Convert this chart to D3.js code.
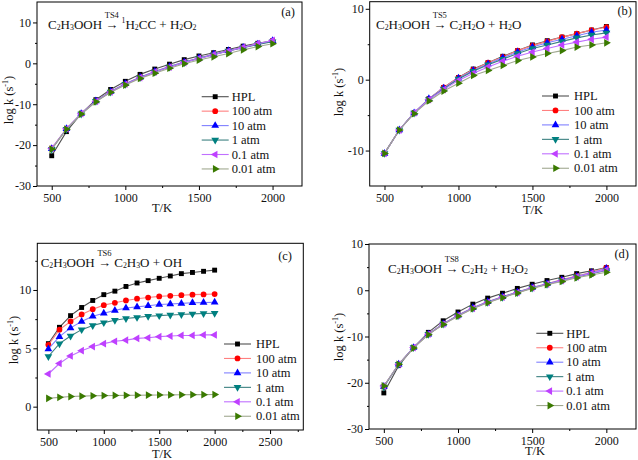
<!DOCTYPE html>
<html><head><meta charset="utf-8">
<script src="https://cdn.jsdelivr.net/npm/d3@7"></script>
<style>
body{margin:0;background:#fff;}
svg{display:block;}
svg text{font-family:"Liberation Serif","Times New Roman",serif !important;}
</style></head>
<body><svg id="c" width="638" height="460"></svg>
<script>
// ---------- data ----------
const temps = [500,600,700,800,900,1000,1100,1200,1300,1400,1500,1600,1700,1800,1900,2000];
const seriesNames = ["HPL","100 atm","10 atm","1 atm","0.1 atm","0.01 atm"];

// (a) TS4
const aHPL  = [-22.6,-16.7,-12.3,-8.9,-6.4,-4.4,-2.7,-1.4,-0.2,0.9,1.8,2.6,3.4,4.2,4.9,5.5];
const a100  = [-20.8,-16.0,-12.3,-9.2,-6.9,-5.0,-3.4,-2.0,-0.8,0.3,1.3,2.2,3.1,3.9,4.7,5.5];
const a10   = [-20.9,-16.0,-12.3,-9.2,-6.9,-5.0,-3.4,-2.0,-0.8,0.3,1.3,2.2,3.1,3.9,4.7,5.5];
const a1    = [-21.0,-16.1,-12.4,-9.3,-7.0,-5.1,-3.5,-2.1,-0.9,0.2,1.2,2.1,3.0,3.8,4.6,5.3];
const a01   = [-20.8,-16.0,-12.3,-9.3,-7.0,-5.1,-3.5,-2.1,-0.9,0.2,1.2,2.1,3.0,3.9,4.8,5.6];
const a001  = [-21.0,-16.1,-12.4,-9.4,-7.1,-5.3,-3.7,-2.4,-1.2,-0.1,0.8,1.6,2.4,3.3,4.1,4.8];

// (b) TS5
const bHPL  = [-10.4,-7.1,-4.7,-2.7,-1.1,0.3,1.5,2.4,3.3,4.1,4.9,5.5,6.0,6.5,7.0,7.5];
const b100  = [-10.4,-7.1,-4.7,-2.7,-1.1,0.3,1.4,2.4,3.2,4.1,4.8,5.4,6.0,6.5,7.0,7.4];
const b10   = [-10.4,-7.1,-4.7,-2.7,-1.2,0.2,1.3,2.2,3.1,3.9,4.6,5.2,5.7,6.2,6.7,7.0];
const b1    = [-10.4,-7.1,-4.7,-2.8,-1.3,0.1,1.2,2.1,2.9,3.7,4.4,4.9,5.4,5.9,6.3,6.6];
const b01   = [-10.4,-7.1,-4.7,-2.8,-1.4,-0.1,0.9,1.8,2.6,3.3,3.9,4.4,4.9,5.3,5.7,6.0];
const b001  = [-10.4,-7.1,-4.8,-3.0,-1.6,-0.5,0.6,1.3,2.0,2.7,3.2,3.7,4.1,4.6,4.9,5.2];

// (c) TS6
const cHPL  = [5.4,6.8,7.8,8.5,9.1,9.6,9.9,10.3,10.6,10.8,11.0,11.2,11.4,11.5,11.6,11.7];
const c100  = [5.3,6.6,7.3,7.9,8.35,8.7,8.9,9.1,9.25,9.35,9.45,9.5,9.55,9.6,9.62,9.65];
const c10   = [4.95,6.0,6.75,7.3,7.75,8.0,8.25,8.45,8.55,8.65,8.75,8.8,8.85,8.9,8.92,8.95];
const c1    = [4.3,5.4,6.05,6.6,6.95,7.2,7.4,7.55,7.65,7.75,7.8,7.85,7.9,7.95,7.98,8.0];
const c01   = [2.8,3.7,4.35,4.8,5.15,5.4,5.6,5.7,5.85,5.9,6.0,6.05,6.1,6.1,6.15,6.15];
const c001  = [0.72,0.8,0.87,0.9,0.93,0.95,0.96,0.97,0.98,0.99,1.0,1.01,1.02,1.03,1.03,1.04];

// (d) TS8
const dHPL  = [-22.2,-16.3,-12.4,-9.1,-6.6,-4.7,-3.0,-1.7,-0.65,0.4,1.3,2.1,2.8,3.6,4.2,4.9];
const d100  = [-20.8,-16.0,-12.4,-9.5,-7.3,-5.4,-3.8,-2.5,-1.4,-0.4,0.6,1.4,2.3,3.1,3.9,4.9];
const d10   = [-20.8,-16.0,-12.4,-9.5,-7.3,-5.4,-3.8,-2.5,-1.4,-0.4,0.6,1.4,2.2,3.0,3.8,4.7];
const d1    = [-20.9,-16.0,-12.4,-9.5,-7.3,-5.5,-3.9,-2.6,-1.5,-0.5,0.5,1.3,2.1,2.9,3.6,4.3];
const d01   = [-20.7,-16.0,-12.4,-9.5,-7.3,-5.5,-3.9,-2.6,-1.5,-0.5,0.5,1.3,2.1,2.9,3.7,4.4];
const d001  = [-20.7,-16.0,-12.5,-9.6,-7.4,-5.6,-4.0,-2.7,-1.6,-0.6,0.4,1.2,1.9,2.7,3.3,3.9];

const xTicksAB = [500,1000,1500,2000];
const xTicksC  = [500,1000,1500,2000,2500];
const yTicksA  = [-30,-20,-10,0,10];
const yTicksB  = [-10,0,10];
const yTicksC  = [0,5,10];
const yTicksD  = [-30,-20,-10,0,10];

// ---------- styles ----------
const SERIF = "Liberation Serif, Times New Roman, serif";
const lineColors   = ["#505050","#ff8080","#8080ff","#3c8080","#c070ff","#a0a890"];
const markerColors = ["#000000","#ff0000","#0000ff","#008080","#bf40ff","#3a7a00"];
const symbolDefs = [
  {t:d3.symbolSquare, r:0, s:24},
  {t:d3.symbolCircle, r:0, s:26},
  {t:d3.symbolTriangle, r:0, s:26},
  {t:d3.symbolTriangle, r:180, s:26},
  {t:d3.symbolTriangle, r:-90, s:26},
  {t:d3.symbolTriangle, r:90, s:26}
];

const panels = [
  {box:[37,2,302,186], xd:[400,2200], yd:[-30,15], xt:xTicksAB, yt:yTicksA, xminor:[750,1250,1750], yminor:[-25,-15,-5,5],
   data:[aHPL,a100,a10,a1,a01,a001], leg:[201.7,96.7,30], tag:"(a)", tagPos:[295,16],
   title:{x:48,y:28.5,ts:"TS4",pre:[["C"],["2","sub"],["H"],["3","sub"],["OOH "]],post:[[" "],["1","sup"],["H"],["2","sub"],["CC + H"],["2","sub"],["O"],["2","sub"]]},
   ylab:[9,100], xlab:[162,212]},
  {box:[369.7,1.7,636,186], xd:[400,2200], yd:[-15,11], xt:xTicksAB, yt:yTicksB, xminor:[750,1250,1750], yminor:[-5,5],
   data:[bHPL,b100,b10,b1,b01,b001], leg:[542,96,32], tag:"(b)", tagPos:[632,15],
   title:{x:376,y:29,ts:"TS5",pre:[["C"],["2","sub"],["H"],["3","sub"],["OOH "]],post:[[" C"],["2","sub"],["H"],["2","sub"],["O + H"],["2","sub"],["O"]]},
   ylab:[339,92], xlab:[533,214]},
  {box:[37.3,243.3,303.3,430], xd:[400,2800], yd:[-2,14], xt:xTicksC, yt:yTicksC, xminor:[750,1250,1750,2250,2750], yminor:[2.5,7.5,12.5],
   data:[cHPL,c100,c10,c1,c01,c001], leg:[224,344,32], tag:"(c)", tagPos:[292,260],
   title:{x:40.7,y:266.5,ts:"TS6",pre:[["C"],["2","sub"],["H"],["3","sub"],["OOH "]],post:[[" C"],["2","sub"],["H"],["3","sub"],["O + OH"]]},
   ylab:[14,340], xlab:[162,458]},
  {box:[369,244,636,429], xd:[400,2200], yd:[-30,10], xt:xTicksAB, yt:yTicksD, xminor:[750,1250,1750], yminor:[-25,-15,-5,5],
   data:[dHPL,d100,d10,d1,d01,d001], leg:[536.3,333.3,30], tag:"(d)", tagPos:[629,258],
   title:{x:388,y:273.3,ts:"TS8",pre:[["C"],["2","sub"],["H"],["3","sub"],["OOH "]],post:[[" C"],["2","sub"],["H"],["2","sub"],[" + H"],["2","sub"],["O"],["2","sub"]]},
   ylab:[339,337], xlab:[535,455]}
];

const svg = d3.select("#c");
const FS = 12;

function drawSegs(g, x, y, segs, fs){
  let cx = x;
  segs.forEach(([txt,kind])=>{
    const size = kind ? fs*0.6 : fs;
    const dy = kind==="sub" ? 1 : (kind==="sup" ? -fs*0.42 : 0);
    const t = g.append("text").attr("x",cx).attr("y",y+dy).attr("font-size",size)
      .attr("font-family",SERIF).attr("fill","#111").style("white-space","pre").text(txt);
    cx += t.node().getComputedTextLength();
  });
  return cx;
}

panels.forEach(p=>{
  const [x0,y0,x1,y1] = p.box;
  const x = d3.scaleLinear().domain(p.xd).range([x0,x1]);
  const y = d3.scaleLinear().domain(p.yd).range([y1,y0]);
  const g = svg.append("g");

  // axes
  g.append("g").attr("transform",`translate(0,${y1})`)
    .call(d3.axisBottom(x).tickValues(p.xt).tickSize(4).tickPadding(3).tickFormat(d3.format("d")));
  g.append("g").attr("transform",`translate(0,${y1})`)
    .call(d3.axisBottom(x).tickValues(p.xminor).tickSize(2).tickFormat(""));
  g.append("g").attr("transform",`translate(${x0},0)`)
    .call(d3.axisLeft(y).tickValues(p.yt).tickSize(4).tickPadding(2).tickFormat(d=>String(d)));
  g.append("g").attr("transform",`translate(${x0},0)`)
    .call(d3.axisLeft(y).tickValues(p.yminor.filter(v=>v>p.yd[0]&&v<p.yd[1])).tickSize(2).tickFormat(""));
  g.selectAll("g").attr("font-family",SERIF);
  g.selectAll(".domain").remove();
  g.selectAll(".tick text").attr("font-size",FS).attr("font-family",SERIF).attr("fill","#111");
  g.selectAll(".tick line").attr("stroke","#000");
  g.append("rect").attr("x",x0).attr("y",y0).attr("width",x1-x0).attr("height",y1-y0)
    .attr("fill","none").attr("stroke","#000").attr("stroke-width",1);

  // series
  const line = d3.line().x((d,i)=>x(temps[i])).y(d=>y(d));
  p.data.forEach((vals,si)=>{
    g.append("path").datum(vals).attr("d",line).attr("fill","none")
      .attr("stroke",lineColors[si]).attr("stroke-width",1.1);
    const sd = symbolDefs[si];
    g.selectAll(null).data(vals).enter().append("path")
      .attr("d",d3.symbol().type(sd.t).size(sd.s))
      .attr("transform",(d,i)=>`translate(${x(temps[i])},${y(d)}) rotate(${sd.r})`)
      .attr("fill",markerColors[si]);
  });

  // legend
  const [lx,ly,tx] = p.leg;
  seriesNames.forEach((nm,si)=>{
    const yy = ly + si*14.45;
    g.append("line").attr("x1",lx).attr("x2",lx+27).attr("y1",yy).attr("y2",yy)
      .attr("stroke",lineColors[si]).attr("stroke-width",1.1);
    const sd = symbolDefs[si];
    g.append("path").attr("d",d3.symbol().type(sd.t).size(sd.s))
      .attr("transform",`translate(${lx+13.5},${yy}) rotate(${sd.r})`).attr("fill",markerColors[si]);
    g.append("text").attr("x",lx+tx).attr("y",yy+4.2).attr("font-size",12.5)
      .attr("font-family",SERIF).attr("fill","#111").text(nm);
  });

  // tag
  g.append("text").attr("x",p.tagPos[0]).attr("y",p.tagPos[1]).attr("text-anchor","end")
    .attr("font-size",12.5).attr("font-family",SERIF).attr("fill","#111").text(p.tag);

  // title
  const t = p.title;
  let cx = drawSegs(g, t.x, t.y, t.pre, 13);
  const arr = g.append("text").attr("x",cx).attr("y",t.y).attr("font-size",13)
    .attr("font-family",SERIF).attr("fill","#111").text("\u2192");
  const aw = arr.node().getComputedTextLength();
  g.append("text").attr("x",cx+aw/2).attr("y",t.y-11).attr("text-anchor","middle")
    .attr("font-size",8.5).attr("font-family",SERIF).attr("fill","#111").text(t.ts);
  drawSegs(g, cx+aw, t.y, t.post, 13);

  // axis labels
  g.append("text").attr("x",p.xlab[0]).attr("y",p.xlab[1]).attr("text-anchor","middle")
    .attr("font-size",12.5).attr("font-family",SERIF).attr("fill","#111").text("T/K");
  const yl = g.append("text").attr("transform",`translate(${p.ylab[0]+4},${p.ylab[1]}) rotate(-90)`)
    .attr("text-anchor","middle").attr("font-size",12.5).attr("font-family",SERIF).attr("fill","#111");
  yl.append("tspan").text("log k (s");
  yl.append("tspan").attr("dy",-5).attr("font-size",8).text("-1");
  yl.append("tspan").attr("dy",5).text(")");
});
</script></body></html>
